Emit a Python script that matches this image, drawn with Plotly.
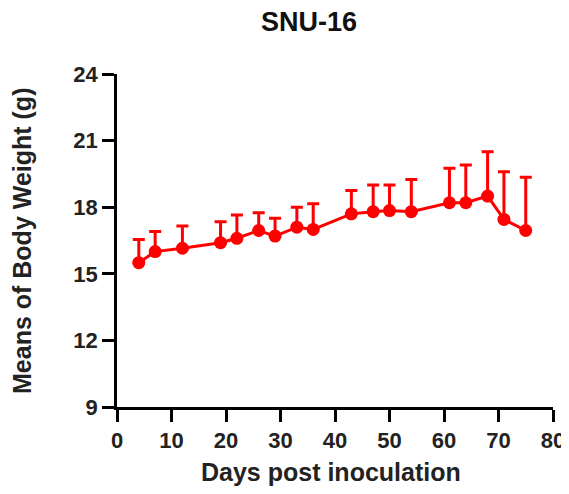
import plotly.graph_objects as go

days = [4, 7, 12, 19, 22, 26, 29, 33, 36, 43, 47, 50, 54, 61, 64, 68, 71, 75]
weight = [15.5, 16.0, 16.15, 16.4, 16.6, 16.95, 16.7, 17.1, 17.0, 17.7, 17.8, 17.85, 17.8, 18.2, 18.2, 18.5, 17.45, 16.95]
err_upper = [1.05, 0.9, 1.0, 0.95, 1.05, 0.8, 0.8, 0.9, 1.15, 1.05, 1.2, 1.15, 1.45, 1.55, 1.7, 2.0, 2.15, 2.4]

x_ticks = [0, 10, 20, 30, 40, 50, 60, 70, 80]
y_ticks = [9, 12, 15, 18, 21, 24]

RED = "#FF0000"
FONT = "Liberation Sans"

fig = go.Figure()
fig.add_trace(go.Scatter(
    x=days, y=weight, mode="lines+markers",
    line=dict(color=RED, width=3),
    marker=dict(color=RED, size=13),
    error_y=dict(type="data", symmetric=False, array=err_upper,
                 arrayminus=[0] * len(err_upper),
                 color=RED, thickness=3, width=6),
    showlegend=False,
))

# page body has an 8px default margin; compensate
OFF = 8
W, H = 569 - OFF, 494 - OFF
PL, PT, PR, PB = 117, 74, 553, 407   # plot area in window pixels
pw = PR - PL
ph = PB - PT
L, T = PL - OFF, PT - OFF
R, B = W - (PR - OFF), H - (PB - OFF)

axis_common = dict(
    showline=True, linecolor="black", linewidth=2.5,
    ticks="outside", ticklen=12, tickwidth=2.5, tickcolor="black",
    showgrid=False, zeroline=False, automargin=False,
    tickfont=dict(family=FONT, size=22, color="#222222", weight="bold"),
)

fig.update_layout(
    width=W, height=H,
    margin=dict(l=L, r=R, t=T, b=B, autoexpand=False),
    plot_bgcolor="white", paper_bgcolor="white",
    xaxis=dict(range=[0, 80], tickvals=x_ticks, **axis_common),
    yaxis=dict(range=[9, 24], tickvals=y_ticks, **axis_common),
    font=dict(family=FONT, color="#222222"),
)

fig.add_annotation(text="<b>SNU-16</b>", xref="paper", yref="paper",
                   x=(309 - PL) / pw, y=1 + (PT - 22) / ph,
                   xanchor="center", yanchor="middle", showarrow=False,
                   font=dict(family=FONT, size=27, color="#111111"))
fig.add_annotation(text="<b>Days post inoculation</b>", xref="paper", yref="paper",
                   x=(331 - PL) / pw, y=-(472 - PB) / ph,
                   xanchor="center", yanchor="middle", showarrow=False,
                   font=dict(family=FONT, size=25, color="#222222"))
fig.add_annotation(text="<b>Means of Body Weight (g)</b>", xref="paper", yref="paper",
                   x=(22 - PL) / pw, y=(PB - 241) / ph,
                   xanchor="center", yanchor="middle", showarrow=False,
                   textangle=-90,
                   font=dict(family=FONT, size=25, color="#222222"))

fig.write_html("out.html")
